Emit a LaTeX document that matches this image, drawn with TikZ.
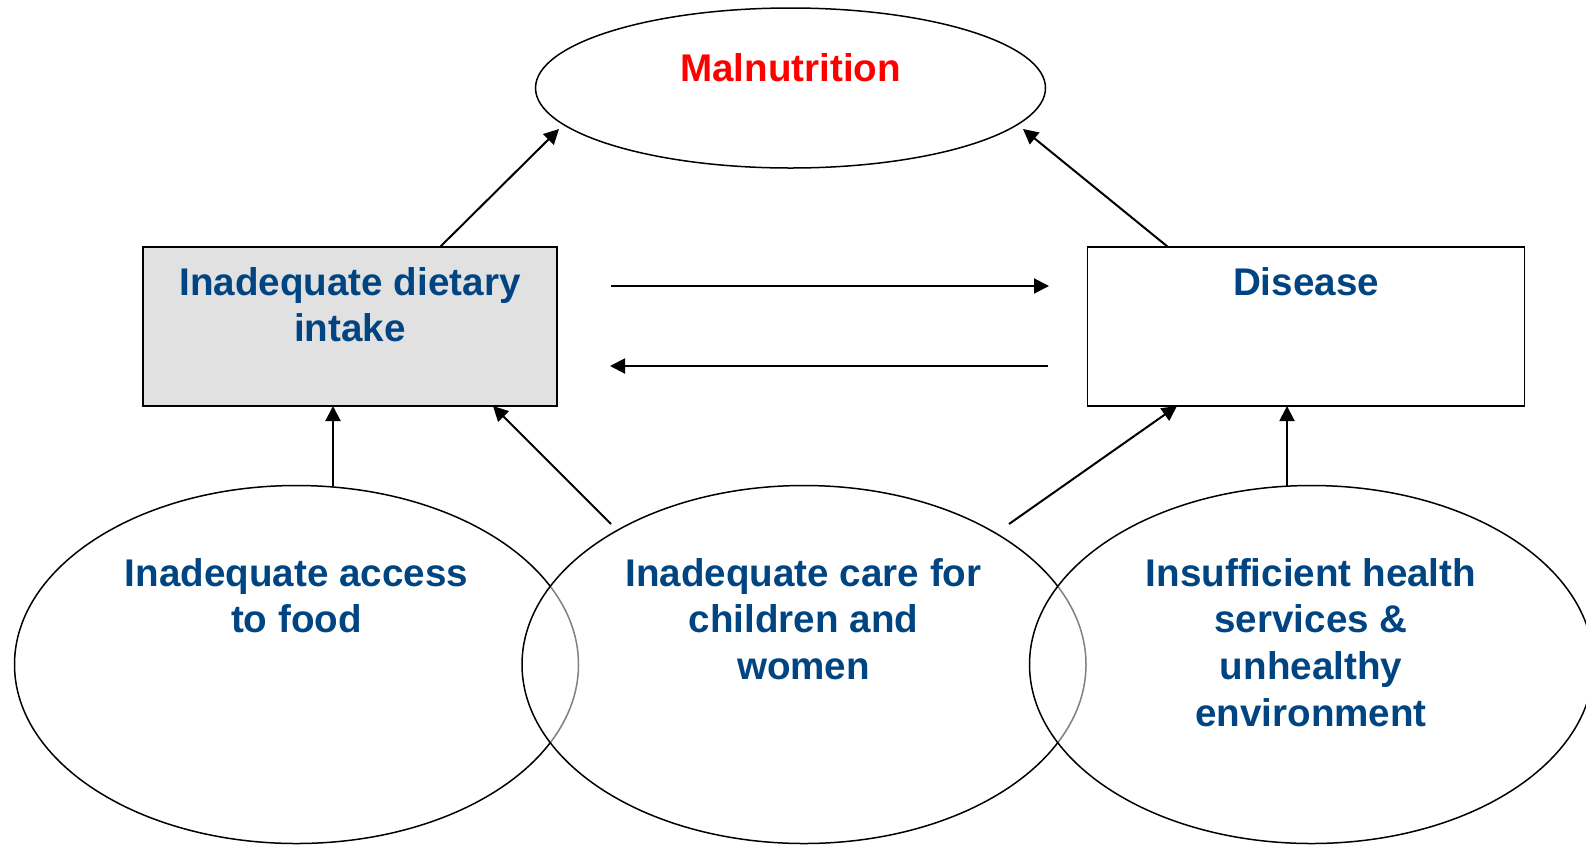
\documentclass[tikz,border=0pt]{standalone}
\usepackage{fontspec}
\setmainfont{Liberation Sans}
\usetikzlibrary{arrows.meta,shapes.geometric}
\definecolor{txtblue}{RGB}{0,69,129}
\definecolor{boxgray}{RGB}{225,225,225}
\tikzset{
  lbl/.style={font=\bfseries\fontsize{38.6}{46.7}\selectfont, text=txtblue, align=center, inner sep=0pt, anchor=north},
  bigell/.style={draw, line width=1.5pt, ellipse, minimum width=564pt, minimum height=358pt, inner sep=0pt, outer sep=0pt},
  overell/.style={bigell, fill=white, fill opacity=0.5, draw opacity=1},
  boxnode/.style={draw, line width=1.5pt, rectangle, minimum height=159pt, inner sep=0pt, outer sep=0pt},
  arr/.style={line width=2pt, -{Triangle[length=15pt,width=15pt]}}
}
\begin{document}
\begin{tikzpicture}[x=1pt,y=-1pt]
\useasboundingbox (0,0) rectangle (1586,844);
\clip (0,0) rectangle (1586,844);
\fill[white] (0,0) rectangle (1586,844);
% top ellipse
\node[draw, line width=1.5pt, ellipse, minimum width=510pt, minimum height=160pt, inner sep=0pt, outer sep=0pt] (mal) at (790.5,88) {};
\node[lbl, text=red] (maltxt) at (790.5,53) {Malnutrition};
% boxes
\node[boxnode, fill=boxgray, minimum width=414pt] (diet) at (350,326.5) {};
\node[lbl] (diettxt) at (350,267) {Inadequate dietary\\intake};
\node[boxnode, fill=white, minimum width=437pt] (dis) at (1306,326.5) {};
\node[lbl] (distxt) at (1306,267) {Disease};
% bottom ellipses
\node[bigell] (left) at (296.5,664.5) {};
\node[overell] (mid) at (804,664.5) {};
\node[overell] (right) at (1311.5,664.5) {};
\node[lbl] (lefttxt) at (296.5,558) {Inadequate access\\to food};
\node[lbl] (midtxt) at (803.5,558) {Inadequate care for\\children and\\women};
\node[lbl] (righttxt) at (1311,558) {Insufficient health\\services \&\\unhealthy\\environment};
% free arrow ends
\coordinate (h1s) at (611,286);
\coordinate (h1e) at (1049,286);
\coordinate (h2s) at (1048,366);
\coordinate (h2e) at (610,366);
\coordinate (c1) at (611,524);
\coordinate (c2) at (1009,524);
\coordinate (m1) at (559,129);
\coordinate (m2) at (1023,129);
% arrows
\draw[arr] ([xshift=90pt]diet.north) -- (m1);
\draw[arr] ([xshift=-138pt]dis.north) -- (m2);
\draw[arr] (h1s) -- (h1e);
\draw[arr] (h2s) -- (h2e);
\draw[arr] (left.north -| 333,0) -- ([xshift=-17pt]diet.south);
\draw[arr] (c1) -- ([xshift=143pt]diet.south);
\draw[arr] (c2) -- ([xshift=-129pt]dis.south);
\draw[arr] (right.north -| 1287,0) -- ([xshift=-19pt]dis.south);
\end{tikzpicture}
\end{document}
